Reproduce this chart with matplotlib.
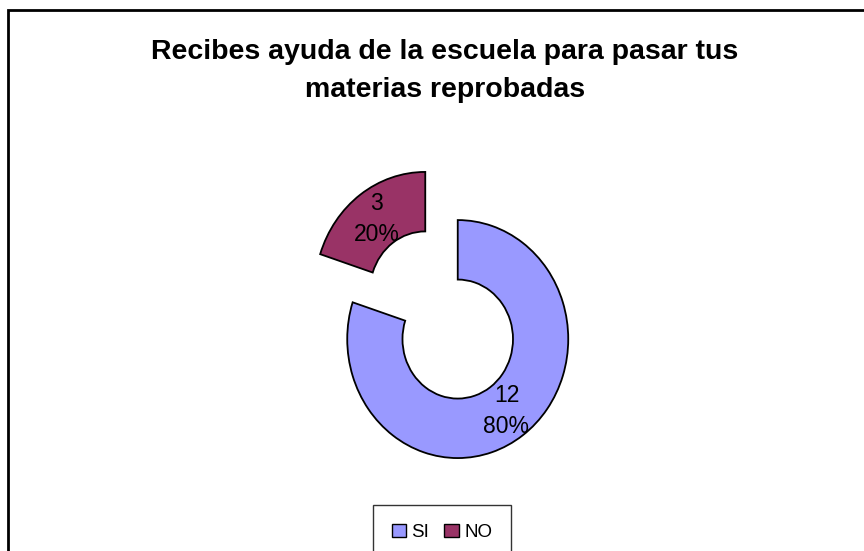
import matplotlib
matplotlib.use('Agg')
import matplotlib.pyplot as plt
from matplotlib.patches import Patch, Rectangle

plt.rcParams['font.family'] = ['Liberation Sans', 'DejaVu Sans']

categories = ["SI", "NO"]
counts = [12, 3]
colors = ["#9999FF", "#993366"]
title = "Recibes ayuda de la escuela para pasar tus\nmaterias reprobadas"

W, H = 864, 551
fig = plt.figure(figsize=(W / 100, H / 100), dpi=100)

# chart frame (top and left edges visible, rest runs off the picture)
fig.patches.append(Rectangle((7.5 / W, -0.1), 2, (1 - 10 / H) + 0.1,
                             transform=fig.transFigure, fill=False,
                             edgecolor='black', linewidth=2))

# pie axes: unit radius -> 110.5 px wide, 119 px tall
cx, cy = 441.5, H - 315
rx, ry = 110.5, 119
ax = fig.add_axes([(cx - 1.5 * rx) / W, (cy - 1.5 * ry) / H, 3 * rx / W, 3 * ry / H])

total = sum(counts)
labels = [f"{c}\n{c / total * 100:.0f}%" for c in counts]

wedges, texts = ax.pie(counts, colors=colors, startangle=90, counterclock=False,
                       explode=[0.25, 0.25], labels=labels, labeldistance=0.75,
                       wedgeprops=dict(width=0.5, edgecolor='black', linewidth=1.3),
                       textprops=dict(fontsize=16.5, va='center', linespacing=1.45))
for t in texts:
    t.set_horizontalalignment('center')
ax.set_aspect('auto')
ax.set_xlim(-1.5, 1.5)
ax.set_ylim(-1.5, 1.5)
ax.axis('off')

fig.text(445 / W, 1 - 71 / H, title, ha='center', va='center',
         fontsize=20.5, fontweight='bold', linespacing=1.6)

handles = [Patch(facecolor=c, edgecolor='black', linewidth=1) for c in colors]
leg = fig.legend(handles, categories, loc='upper center',
                 bbox_to_anchor=(442 / W, 1 - 505 / H), ncol=2, fontsize=13.5,
                 frameon=True, fancybox=False, edgecolor='black',
                 handlelength=0.75, handleheight=0.75, handletextpad=0.3,
                 columnspacing=0.8, borderpad=1.0, borderaxespad=0)
leg.get_frame().set_linewidth(1)

fig.savefig('out.png', dpi=100)
